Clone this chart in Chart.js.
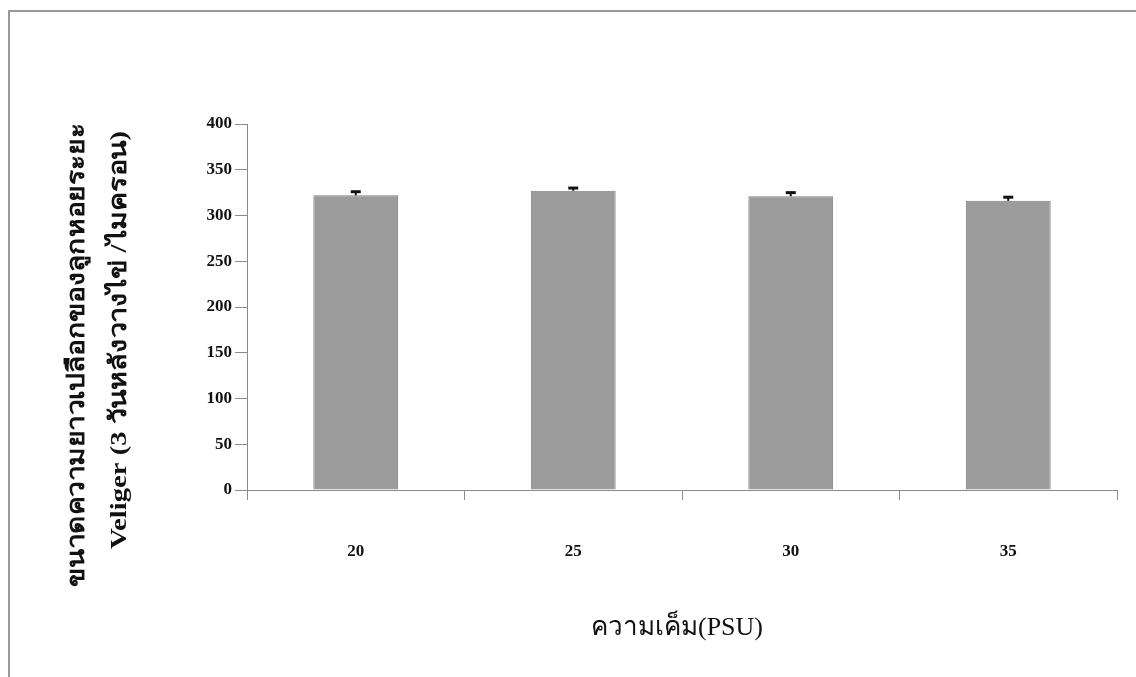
<!DOCTYPE html>
<html>
<head>
<meta charset="utf-8">
<script src="https://cdn.jsdelivr.net/npm/chart.js@4.4.1/dist/chart.umd.min.js"></script>
<style>
  html, body { margin: 0; padding: 0; background: #fff; overflow: hidden; }
  #wrap { position: relative; width: 1136px; height: 677px; }
  #frame { position: absolute; left: 8px; top: 10px; width: 1200px; height: 700px;
           border: 2px solid #9a9a9a; box-sizing: border-box; pointer-events: none; }
  canvas { position: absolute; left: 0; top: 0; }
</style>
</head>
<body>
<div id="wrap">
  <div id="frame"></div>
  <canvas id="chart" width="1136" height="677"></canvas>
</div>
<script>
// ค่าที่อ่านจากกราฟ
const salinity = ['20', '25', '30', '35'];
const shellLength = [322, 327, 321, 316];
const shellError = [4, 3, 4, 4];

const yTitleLines = ['ขนาดความยาวเปลือกของลูกหอยระยะ', 'Veliger (3 วันหลังวางไข่ /ไมครอน)'];
const xTitle = 'ความเค็ม(PSU)';

const serif = '"Liberation Serif", "DejaVu Serif", serif';

// error bar ด้านบนของแต่ละแท่ง
const errorBars = {
  id: 'errorBars',
  afterDatasetsDraw(chart) {
    const ctx = chart.ctx;
    const y = chart.scales.y;
    chart.getDatasetMeta(0).data.forEach((bar, i) => {
      const top = y.getPixelForValue(shellLength[i] + shellError[i]);
      ctx.save();
      ctx.strokeStyle = '#111';
      ctx.lineWidth = 2;
      ctx.beginPath();
      ctx.moveTo(bar.x, bar.y);
      ctx.lineTo(bar.x, top);
      ctx.stroke();
      ctx.lineWidth = 3;
      ctx.beginPath();
      ctx.moveTo(bar.x - 5, top);
      ctx.lineTo(bar.x + 5, top);
      ctx.stroke();
      ctx.restore();
    });
  }
};

// ข้อความแนวตั้ง ยืดให้ยาวเท่าต้นฉบับ
function drawVertical(ctx, text, cx, cy, size, length) {
  ctx.save();
  ctx.fillStyle = '#111';
  ctx.textAlign = 'center';
  ctx.textBaseline = 'middle';
  ctx.font = 'bold ' + size + 'px ' + serif;
  const w = ctx.measureText(text).width;
  ctx.translate(cx, cy);
  ctx.rotate(-Math.PI / 2);
  ctx.scale(length / w, 1);
  ctx.fillText(text, 0, 0);
  ctx.restore();
}

const axisTitles = {
  id: 'axisTitles',
  afterDraw(chart) {
    const ctx = chart.ctx;
    ctx.save();
    ctx.fillStyle = '#111';
    ctx.textAlign = 'center';
    ctx.textBaseline = 'middle';
    ctx.font = '26px ' + serif;
    ctx.fillText(xTitle, 677, 628);
    ctx.restore();

    drawVertical(ctx, yTitleLines[0], 78, 355, 24, 464);
    drawVertical(ctx, yTitleLines[1], 120, 340, 24, 418);
  }
};

new Chart(document.getElementById('chart'), {
  type: 'bar',
  data: {
    labels: salinity,
    datasets: [{
      data: shellLength,
      backgroundColor: '#9b9b9b',
      borderColor: '#7e7e7e',
      borderWidth: 1,
      categoryPercentage: 1,
      barPercentage: 0.39
    }]
  },
  options: {
    responsive: false,
    animation: false,
    layout: { padding: { top: 124, right: 19, left: 0, bottom: 0 } },
    plugins: { legend: { display: false }, tooltip: { enabled: false } },
    scales: {
      x: {
        afterFit: s => { s.height = 187; },
        grid: { drawOnChartArea: false, tickLength: 10, color: '#8a8a8a' },
        border: { color: '#8a8a8a', width: 1 },
        ticks: { color: '#111', padding: 41, font: { family: serif, size: 17, weight: 'bold' } }
      },
      y: {
        min: 0, max: 400,
        afterFit: s => { s.width = 247; },
        grid: { drawOnChartArea: false, tickLength: 12, color: '#8a8a8a' },
        border: { color: '#8a8a8a', width: 1 },
        ticks: { stepSize: 50, color: '#111', padding: 3, font: { family: serif, size: 17, weight: 'bold' } }
      }
    }
  },
  plugins: [errorBars, axisTitles]
});
</script>
</body>
</html>
